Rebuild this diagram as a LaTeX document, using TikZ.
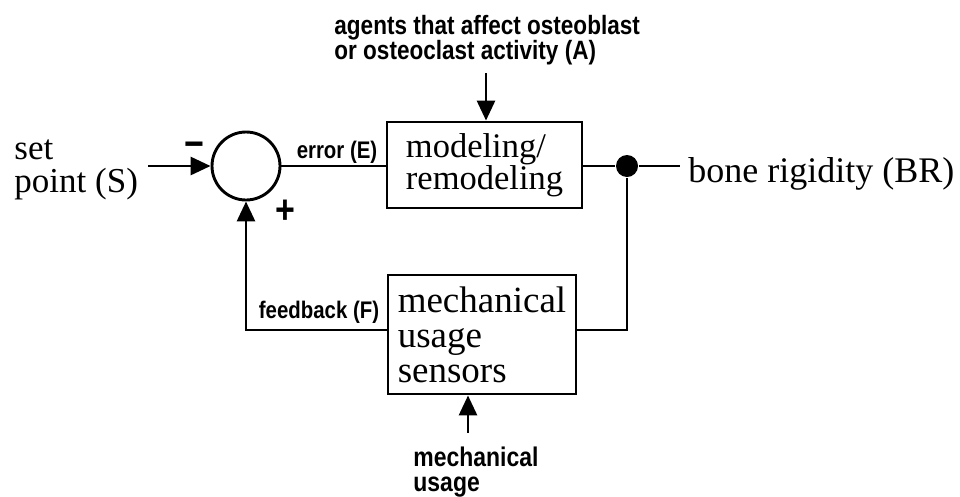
\documentclass[tikz,border=0pt]{standalone}
\usepackage{fontspec}
\setmainfont{Liberation Serif}
\newfontfamily\labfont{Liberation Sans}[FakeStretch=0.85]
\usetikzlibrary{arrows.meta}
\begin{document}
\begin{tikzpicture}[x=1pt,y=-1pt,
  line width=2.9pt,
  arr/.style={-{Triangle[length=20pt,width=18pt]}},
  block/.style={draw, line width=2.9pt, inner sep=0pt, align=left},
  lab/.style={inner sep=0pt, font=\labfont\bfseries\fontsize{24}{26}\selectfont},
  big/.style={inner sep=0pt, align=left}
]
\useasboundingbox (0,0) rectangle (960,496);

% summing junction
\node[circle, draw, line width=2.9pt, minimum size=68pt, inner sep=0pt] (sum) at (246,166) {};

% blocks
\node[block, minimum width=195pt, minimum height=86pt,
      font=\fontsize{34.5}{30}\selectfont] (mod) at (484.5,165) {modeling/\\remodeling};
\node[block, minimum width=188pt, minimum height=119pt,
      font=\fontsize{37}{35}\selectfont] (mech) at (482,334.5) {mechanical\\usage\\sensors};

% output junction dot
\node[circle, fill, minimum size=22pt, inner sep=0pt] (dot) at (627,166) {};

% texts
\node[big, anchor=west, font=\fontsize{35}{33}\selectfont] (setpt) at (13,170) {set\\point (S)};
\node[big, anchor=base west, font=\fontsize{36}{40}\selectfont] (br) at (687,182) {bone rigidity (BR)};
\node[lab, anchor=base] (err) at (337,158) {error (E)};
\node[lab, anchor=base] (fb) at (319,318) {feedback (F)};
\node[lab, align=left, anchor=north west, font=\labfont\bfseries\fontsize{26.5}{25}\selectfont] (agents) at (333,14) {agents that affect osteoblast\\or osteoclast activity (A)};
\node[lab, align=left, anchor=north west, font=\labfont\bfseries\fontsize{27}{25}\selectfont] (mu) at (412,445) {mechanical\\usage};
\node[inner sep=0pt, anchor=base, font=\labfont\bfseries\fontsize{40}{40}\selectfont] (minus) at (194,157) {−};
\node[inner sep=0pt, font=\labfont\bfseries\fontsize{40}{40}\selectfont] (plus) at (285,212) {+};

% coordinates for free ends and corners
\coordinate (sp) at (148,166);
\coordinate (outend) at (680,166);
\coordinate (ta) at (486,73);
\coordinate (ba) at (468,433);
\coordinate (fl) at (246,330);
\coordinate (fr) at (627,330);

% connectors
\draw[arr] (sp) -- (sum.west);
\draw (sum.east) -- (mod.west |- sum.east);
\draw (mod.east |- dot) -- (dot) -- (outend);
\draw[arr] (ta) -- (ta |- mod.north);
\draw (dot) -- (fr) -- (mech.east |- fr);
\draw[arr] (mech.west |- fl) -- (fl) -- (sum.south);
\draw[arr] (ba) -- (ba |- mech.south);
\end{tikzpicture}
\end{document}
